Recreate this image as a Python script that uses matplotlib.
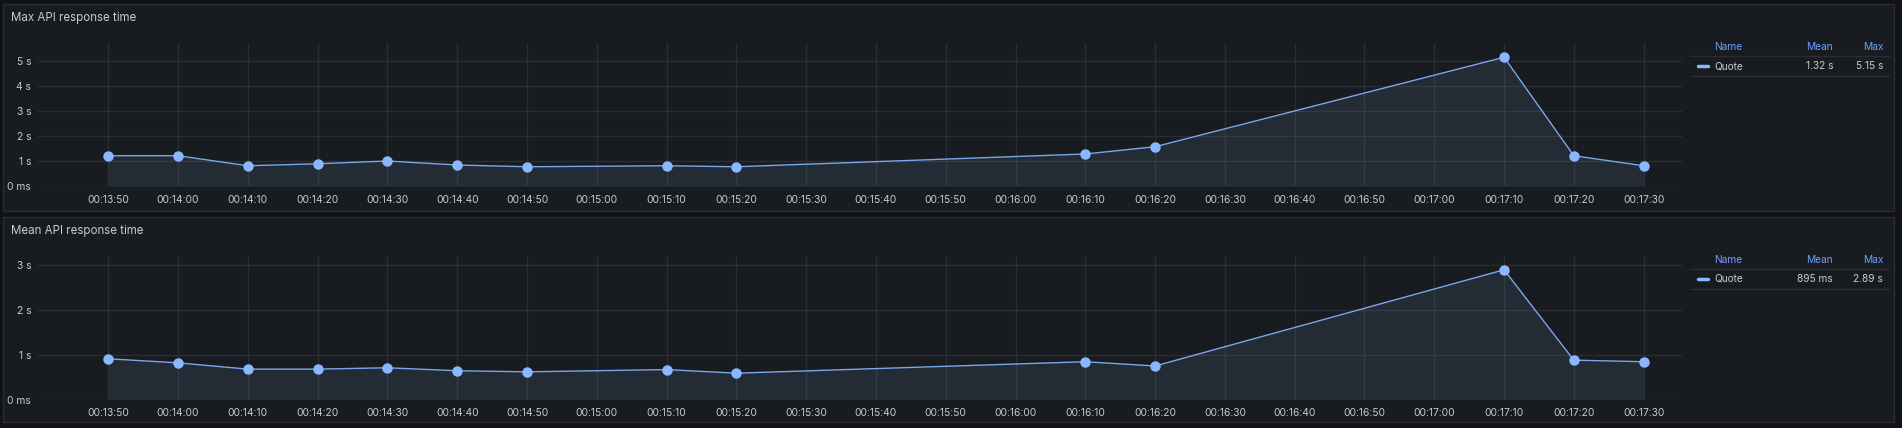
import matplotlib
matplotlib.use('Agg')
import matplotlib.pyplot as plt
from matplotlib.patches import Rectangle
from matplotlib.lines import Line2D

plt.rcParams['font.family'] = ['Inter', 'DejaVu Sans']

# data
times = ['00:13:50', '00:14:00', '00:14:10', '00:14:20', '00:14:30', '00:14:40', '00:14:50',
         '00:15:10', '00:15:20', '00:16:10', '00:16:20', '00:17:10', '00:17:20', '00:17:30']
max_resp = [1.22, 1.22, 0.82, 0.90, 1.01, 0.85, 0.78, 0.82, 0.78, 1.29, 1.58, 5.15, 1.22, 0.82]
mean_resp = [0.91, 0.82, 0.68, 0.68, 0.71, 0.644, 0.62, 0.67, 0.59, 0.845, 0.75, 2.89, 0.88, 0.845]
tick_times = ['00:13:50', '00:14:00', '00:14:10', '00:14:20', '00:14:30', '00:14:40', '00:14:50',
              '00:15:00', '00:15:10', '00:15:20', '00:15:30', '00:15:40', '00:15:50', '00:16:00',
              '00:16:10', '00:16:20', '00:16:30', '00:16:40', '00:16:50', '00:17:00', '00:17:10',
              '00:17:20', '00:17:30']
series_name = 'Quote'

W, H = 1902, 428
BG = '#111217'
PANEL = '#181b1f'
BORDER = '#2a2d33'
GRID = '#2a2d33'
TXT = '#c7cad1'
HEAD = '#6e9fff'
LINE = '#7aa7ec'
PT = '#8ab8ff'


def secs(t):
    h, m, s = t.split(':')
    return int(h) * 3600 + int(m) * 60 + int(s)


def fmt_dur(v):
    if v < 1:
        return '%d ms' % round(v * 1000)
    return '%.2f s' % v


def box(x0, y0, x1, y1):
    # pixel box, y from top -> figure fraction
    return [x0 / W, 1 - y1 / H, (x1 - x0) / W, (y1 - y0) / H]


fig = plt.figure(figsize=(W / 100, H / 100), dpi=100)
fig.patch.set_facecolor(BG)

xs = [secs(t) for t in times]
ticks = [secs(t) for t in tick_times]
t0 = secs('00:13:50')

panels = [
    dict(title='Max API response time', vals=max_resp, top=4, bot=211, ax=(38, 43, 1682, 186.3),
         ymax=5.72, yt=[0, 1, 2, 3, 4, 5], head_y=47, row_y=66, l1=55.5, l2=75.5),
    dict(title='Mean API response time', vals=mean_resp, top=217, bot=422, ax=(38, 256.3, 1682, 399.7),
         ymax=3.19, yt=[0, 1, 2, 3], head_y=260, row_y=279, l1=268.5, l2=288.5),
]

for p in panels:
    fig.add_artist(Rectangle((3 / W, 1 - p['bot'] / H), 1891 / W, (p['bot'] - p['top']) / H,
                             transform=fig.transFigure, facecolor=PANEL, edgecolor=BORDER, lw=1,
                             zorder=-10))
    fig.text(11 / W, 1 - (p['top'] + 14) / H, p['title'], color=TXT, fontsize=8.3,
             va='center', ha='left')

    ax = fig.add_axes(box(*p['ax']))
    ax.set_facecolor('none')
    ax.fill_between(xs, p['vals'], 0, color=PT, alpha=0.1, lw=0)
    ax.plot(xs, p['vals'], color=LINE, lw=1)
    ax.plot(xs, p['vals'], 'o', color=PT, ms=6.5, mec=PT)
    ax.set_xlim(t0 - 10.07, t0 + 225.5)
    ax.set_ylim(0, p['ymax'])
    ax.set_xticks(ticks)
    ax.set_xticklabels(tick_times)
    ax.set_yticks(p['yt'])
    ax.set_yticklabels(['0 ms'] + ['%d s' % v for v in p['yt'][1:]])
    ax.tick_params(colors=TXT, labelsize=7.4, length=0)
    ax.tick_params(axis='x', pad=6)
    ax.tick_params(axis='y', pad=5)
    ax.grid(True, color=GRID, lw=1)
    ax.set_axisbelow(True)
    for s in ax.spines.values():
        s.set_visible(False)

    # legend table
    fs = 7.3
    fig.text(1714 / W, 1 - p['head_y'] / H, 'Name', color=HEAD, fontsize=fs, va='center', ha='left')
    fig.text(1833 / W, 1 - p['head_y'] / H, 'Mean', color=HEAD, fontsize=fs, va='center', ha='right')
    fig.text(1883 / W, 1 - p['head_y'] / H, 'Max', color=HEAD, fontsize=fs, va='center', ha='right')
    fig.add_artist(Line2D([1690 / W, 1889 / W], [1 - p['l1'] / H] * 2, color=BORDER, lw=1))
    fig.add_artist(Line2D([1690 / W, 1889 / W], [1 - p['l2'] / H] * 2, color=BORDER, lw=1))
    fig.add_artist(Line2D([1698 / W, 1708 / W], [1 - p['row_y'] / H] * 2, color=PT, lw=2.5,
                          solid_capstyle='round'))
    mean_v = sum(p['vals']) / len(p['vals'])
    fig.text(1714 / W, 1 - p['row_y'] / H, series_name, color=TXT, fontsize=fs, va='center', ha='left')
    fig.text(1833 / W, 1 - p['row_y'] / H, fmt_dur(mean_v), color=TXT, fontsize=fs, va='center', ha='right')
    fig.text(1883 / W, 1 - p['row_y'] / H, fmt_dur(max(p['vals'])), color=TXT, fontsize=fs,
             va='center', ha='right')

fig.savefig('out.png', dpi=100, facecolor=BG)
